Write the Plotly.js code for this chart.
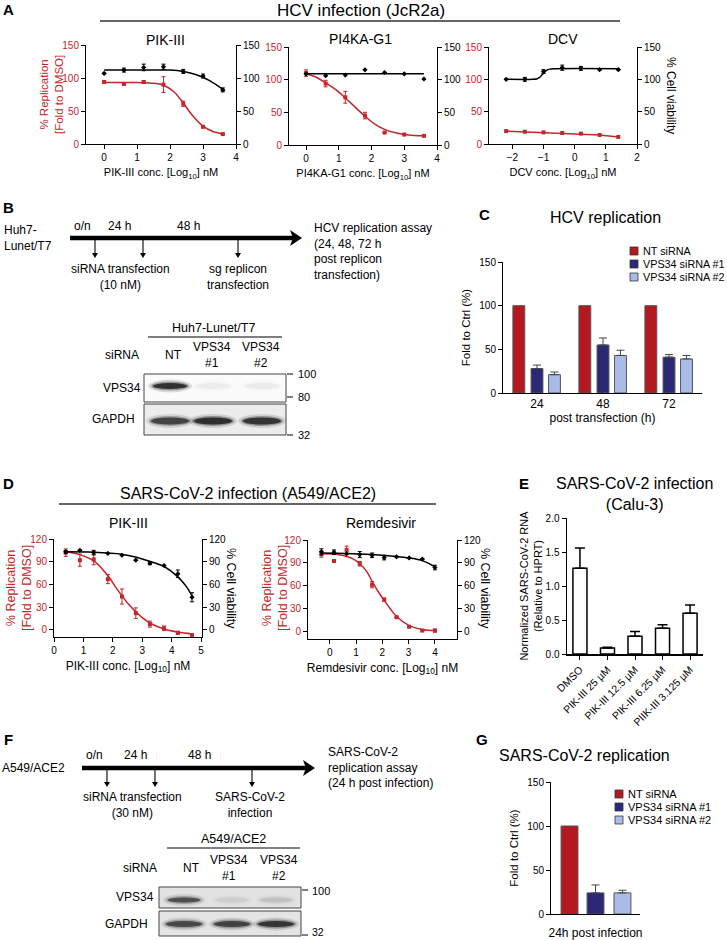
<!DOCTYPE html>
<html><head><meta charset="utf-8">
<script src="https://cdn.plot.ly/plotly-3.0.1.min.js"></script>
<style>html,body{margin:0;padding:0;background:#fff}#chart{width:727px;height:940px}</style>
</head><body><div id="chart"></div>
<script>
// ================= DATA =================
// Panel A - HCV infection (JcR2a)
const pik3HcvDose = [0, 0.6, 1.2, 1.8, 2.4, 3.0, 3.6];
const pik3HcvRep = [94, 91, 94, 90, 61, 26, 15];
const pik3HcvRepErr = [0, 0, 2, 12, 4, 0, 0];
const pik3HcvViab = [107, 112, 116, 117, 110, 103, 82];
const pik3HcvViabErr = [0, 3, 5, 4, 3, 3, 3];
const pik3HcvRepFitX = [0, 1, 1.5, 1.8, 2.1, 2.4, 2.7, 3.0, 3.3, 3.65];
const pik3HcvRepFitY = [93, 93, 92, 89, 80, 62, 42, 27, 19, 15];
const pik3HcvViabFitX = [0, 1, 2, 2.4, 2.8, 3.2, 3.65];
const pik3HcvViabFitY = [112, 112, 112, 110, 105, 96, 81];

const pi4kDose = [0, 0.6, 1.2, 1.8, 2.4, 3.0, 3.6];
const pi4kRep = [110, 94, 73, 45, 19, 16, 14];
const pi4kRepErr = [5, 5, 9, 5, 0, 0, 0];
const pi4kViab = [109, 106, 107, 115, 111, 109, 101];
const pi4kRepFitX = [0, 0.3, 0.6, 0.9, 1.2, 1.5, 1.8, 2.1, 2.4, 2.7, 3.0, 3.3, 3.6];
const pi4kRepFitY = [109, 104, 95, 85, 72, 58, 44, 32, 24, 19, 16, 14.5, 14];
const pi4kViabFitX = [0, 3.6];
const pi4kViabFitY = [109, 109];

const dcvDose = [-2.2, -1.6, -1.0, -0.4, 0.2, 0.8, 1.4];
const dcvRep = [20, 19, 18, 17, 16, 14, 11];
const dcvViab = [100, 100, 112, 118, 117, 115, 115];
const dcvViabErr = [0, 3, 3, 4, 3, 0, 0];
const dcvViabFitX = [-2.2, -1.35, -1.2, -1.1, -1.0, -0.9, -0.8, -0.6, 1.45];
const dcvViabFitY = [100, 100, 101, 104, 110, 114, 115.8, 116.5, 116.5];

// Panel C - HCV replication (siRNA)
const hcvTimes = ['24', '48', '72'];
const hcvNT = [100, 100, 100];
const hcvVps1 = [28, 55, 41];
const hcvVps1Err = [4, 8, 3];
const hcvVps2 = [21, 43, 39];
const hcvVps2Err = [3, 6, 4];
const siNames = ['NT siRNA', 'VPS34 siRNA #1', 'VPS34 siRNA #2'];

// Panel D - SARS-CoV-2 infection (A549/ACE2)
const pik3SarsDose = [0.4, 0.88, 1.35, 1.83, 2.31, 2.78, 3.26, 3.74, 4.21, 4.69];
const pik3SarsRep = [102, 92, 93, 67, 44, 22, 7.5, 2, -4, -7];
const pik3SarsRepErr = [5, 8, 7, 6, 10, 7, 4, 3, 2, 0];
const pik3SarsViab = [103, 105, 102, 101, 98.5, 92, 88, 85, 74, 43];
const pik3SarsViabErr = [2, 0, 3, 0, 0, 0, 2, 0, 5, 6];
const pik3SarsRepFitX = [0.4, 0.9, 1.35, 1.84, 2.1, 2.31, 2.55, 2.78, 3.0, 3.26, 3.74, 4.21, 4.7];
const pik3SarsRepFitY = [103, 99, 91, 71, 56, 45, 33, 24, 16, 9, 1, -3, -5.5];
const pik3SarsViabFitX = [0.4, 1.35, 2.3, 2.8, 3.3, 3.77, 4.21, 4.5, 4.7];
const pik3SarsViabFitY = [103, 102.5, 100, 96, 90, 83, 70, 57, 44];

const remDose = [-0.32, 0.16, 0.64, 1.14, 1.61, 2.07, 2.54, 3.02, 3.52, 4.0];
const remRep = [101.5, 92.5, 107, 89, 61.5, 42, 19, 6.5, 1.5, 1.5];
const remRepErr = [4, 0, 5, 3, 4, 2, 0, 0, 0, 2];
const remViab = [104.5, 104, 102, 101, 100, 97, 98, 96.5, 95, 84];
const remViabErr = [4, 3, 0, 4, 3, 3, 0, 0, 0, 3];
const remRepFitX = [-0.32, 0.3, 0.64, 0.9, 1.14, 1.4, 1.61, 1.85, 2.07, 2.3, 2.54, 3.02, 3.52, 4.0];
const remRepFitY = [102, 101, 98.5, 95, 89, 79, 66, 52, 41, 30, 20, 8, 3, 1.5];
const remViabFitX = [-0.32, 0.64, 1.61, 2.54, 3.02, 3.52, 4.0];
const remViabFitY = [103, 102.5, 101, 98.5, 96.5, 93, 85];

// Panel E - SARS-CoV-2 infection (Calu-3)
const calu3Cond = ['DMSO', 'PIK-III 25 µM', 'PIK-III 12.5 µM', 'PIK-III 6.25 µM', 'PIIK-III 3.125 µM'];
const calu3RNA = [1.26, 0.09, 0.26, 0.38, 0.60];
const calu3Err = [0.30, 0.01, 0.07, 0.05, 0.12];

// Panel G - SARS-CoV-2 replication (siRNA)
const sarsCat = ['24h post infection'];
const sarsNT = [100];
const sarsVps1 = [24];
const sarsVps1Err = [9];
const sarsVps2 = [24];
const sarsVps2Err = [3];

// Western blot relative band intensities (lanes: NT, VPS34 #1, VPS34 #2)
const huhVps34Band = [1.0, 0.05, 0.06];
const huhGapdhBand = [0.85, 1.0, 0.95];
const a549Vps34Band = [0.75, 0.08, 0.12];
const a549GapdhBand = [0.8, 0.85, 0.95];

// ================= HELPERS =================
const W = 727, H = 940;
const X = p => p / W;
const Y = p => 1 - p / H;
const RED = '#c4262c';
const FONT = 'Liberation Sans, Arial, Helvetica, sans-serif';
const SI_COLORS = ['#b3191e', '#2b2875', '#a9bbe6'];

const shapes = [];
const annotations = [];
function T(x, y, text, o = {}) {
  const f = Object.assign({ size: 12, color: '#000' }, o.font || {});
  const a = Object.assign({ xref: 'paper', yref: 'paper', x: X(x), y: Y(y), text, showarrow: false,
    xanchor: 'center', yanchor: 'middle' }, o);
  a.font = f;
  annotations.push(a);
}
function L(x0, y0, x1, y1, w = 1, c = '#000') {
  shapes.push({ type: 'line', xref: 'paper', yref: 'paper', x0: X(x0), y0: Y(y0), x1: X(x1), y1: Y(y1), line: { color: c, width: w } });
}
function R(x0, y0, x1, y1, fill, lc = '#444', lw = 1) {
  shapes.push({ type: 'rect', xref: 'paper', yref: 'paper', x0: X(x0), y0: Y(y1), x1: X(x1), y1: Y(y0), fillcolor: fill, line: { color: lc, width: lw } });
}
function Ell(cx, cy, w, h, fill) {
  shapes.push({ type: 'circle', xref: 'paper', yref: 'paper', x0: X(cx - w / 2), y0: Y(cy + h / 2), x1: X(cx + w / 2), y1: Y(cy - h / 2), fillcolor: fill, line: { width: 0 } });
}
function Path(pts, fill) {
  const d = pts.map((p, i) => (i ? 'L' : 'M') + X(p[0]).toFixed(5) + ',' + Y(p[1]).toFixed(5)).join(' ') + ' Z';
  shapes.push({ type: 'path', xref: 'paper', yref: 'paper', path: d, fillcolor: fill, line: { width: 0 } });
}
function downArrow(x, y0, y1) {
  L(x, y0, x, y1 - 4, 1.1);
  Path([[x - 3, y1 - 5], [x + 3, y1 - 5], [x, y1]], '#000');
}
function bigArrow(x0, x1, y) {
  L(x0, y, x1 - 6, y, 4.5);
  Path([[x1 - 12, y - 8], [x1, y], [x1 - 12, y + 8], [x1 - 9, y]], '#000');
}
function band(cx, cy, w, h, I) {
  if (I <= 0) return;
  Ell(cx, cy, w + 10, h + 7, `rgba(40,40,40,${(0.15 * I).toFixed(3)})`);
  Ell(cx, cy, w + 4, h + 3, `rgba(30,30,30,${(0.35 * I).toFixed(3)})`);
  Ell(cx, cy, w, h, `rgba(15,15,15,${(0.75 * I).toFixed(3)})`);
}
function axisBase(extra) {
  return Object.assign({ showline: true, linecolor: '#000', linewidth: 1, ticks: 'outside', ticklen: 4, tickwidth: 1,
    tickcolor: '#000', showgrid: false, zeroline: false, fixedrange: true, automargin: false,
    tickfont: { size: 10, color: '#000', family: FONT } }, extra);
}
function pts(x, y, err, xa, ya, color, symbol) {
  const t = { x, y, xaxis: xa, yaxis: ya, type: 'scatter', mode: 'markers', cliponaxis: false,
    marker: { size: 4, color, symbol } };
  if (err) t.error_y = { type: 'data', array: err, visible: true, color, thickness: 1, width: 2 };
  return t;
}
function fit(x, y, xa, ya, color, shape = 'spline') {
  return { x, y, xaxis: xa, yaxis: ya, type: 'scatter', mode: 'lines', line: { color, width: 1.5, shape, smoothing: 1 }, hoverinfo: 'skip' };
}
function siBars(cats, vals, errs, idx, xa, ya, width, offs) {
  const t = { type: 'bar', x: cats, y: vals, xaxis: xa, yaxis: ya, name: siNames[idx], width, offset: offs - width / 2,
    marker: { color: SI_COLORS[idx], line: { color: '#555', width: 1 } } };
  if (errs) t.error_y = { type: 'data', array: errs, arrayminus: errs.map(() => 0), symmetric: false, color: '#444', thickness: 1, width: 4 };
  return t;
}

// ================= TRACES =================
const data = [
  // A1 PIK-III
  fit(pik3HcvViabFitX, pik3HcvViabFitY, 'x', 'y2', '#000'),
  pts(pik3HcvDose, pik3HcvViab, pik3HcvViabErr, 'x', 'y2', '#000', 'diamond'),
  fit(pik3HcvRepFitX, pik3HcvRepFitY, 'x', 'y', RED),
  pts(pik3HcvDose, pik3HcvRep, pik3HcvRepErr, 'x', 'y', RED, 'square'),
  // A2 PI4KA-G1
  fit(pi4kViabFitX, pi4kViabFitY, 'x2', 'y4', '#000', 'linear'),
  pts(pi4kDose, pi4kViab, null, 'x2', 'y4', '#000', 'diamond'),
  fit(pi4kRepFitX, pi4kRepFitY, 'x2', 'y3', RED),
  pts(pi4kDose, pi4kRep, pi4kRepErr, 'x2', 'y3', RED, 'square'),
  // A3 DCV
  fit(dcvViabFitX, dcvViabFitY, 'x3', 'y6', '#000'),
  pts(dcvDose, dcvViab, dcvViabErr, 'x3', 'y6', '#000', 'diamond'),
  Object.assign(pts(dcvDose, dcvRep, null, 'x3', 'y5', RED, 'square'), { mode: 'lines+markers', line: { color: RED, width: 1.5 } }),
  // C HCV replication
  siBars(hcvTimes, hcvNT, null, 0, 'x4', 'y7', 0.18, -0.275),
  siBars(hcvTimes, hcvVps1, hcvVps1Err, 1, 'x4', 'y7', 0.18, 0),
  siBars(hcvTimes, hcvVps2, hcvVps2Err, 2, 'x4', 'y7', 0.18, 0.265),
  // D1 PIK-III
  fit(pik3SarsViabFitX, pik3SarsViabFitY, 'x5', 'y9', '#000'),
  pts(pik3SarsDose, pik3SarsViab, pik3SarsViabErr, 'x5', 'y9', '#000', 'diamond'),
  fit(pik3SarsRepFitX, pik3SarsRepFitY, 'x5', 'y8', RED),
  pts(pik3SarsDose, pik3SarsRep, pik3SarsRepErr, 'x5', 'y8', RED, 'square'),
  // D2 Remdesivir
  fit(remViabFitX, remViabFitY, 'x6', 'y11', '#000'),
  pts(remDose, remViab, remViabErr, 'x6', 'y11', '#000', 'diamond'),
  fit(remRepFitX, remRepFitY, 'x6', 'y10', RED),
  pts(remDose, remRep, remRepErr, 'x6', 'y10', RED, 'square'),
  // E Calu-3
  { type: 'bar', x: calu3Cond, y: calu3RNA, xaxis: 'x7', yaxis: 'y12', width: 0.51,
    marker: { color: '#fff', line: { color: '#000', width: 1.5 } },
    error_y: { type: 'data', array: calu3Err, arrayminus: calu3Err.map(() => 0), symmetric: false, color: '#000', thickness: 1.5, width: 5 } },
  // G SARS-CoV-2 replication
  siBars(sarsCat, sarsNT, null, 0, 'x8', 'y13', 0.19, -0.292),
  siBars(sarsCat, sarsVps1, sarsVps1Err, 1, 'x8', 'y13', 0.19, 0),
  siBars(sarsCat, sarsVps2, sarsVps2Err, 2, 'x8', 'y13', 0.19, 0.303),
];

// ================= AXES =================
const redTick = { size: 10, color: RED, family: FONT };
const log10 = name => name + ' conc. [Log<sub>10</sub>] nM';
const layout = {
  width: W, height: H, margin: { l: 0, r: 0, t: 0, b: 0 }, paper_bgcolor: '#fff', plot_bgcolor: 'rgba(0,0,0,0)',
  font: { family: FONT, size: 11, color: '#000' }, showlegend: false, barmode: 'overlay',
  // A1
  xaxis: axisBase({ domain: [X(86), X(236)], range: [-0.55, 4], anchor: 'y', tickvals: [0, 1, 2, 3, 4],
    title: { text: log10('PIK-III'), font: { size: 11 }, standoff: 6 } }),
  yaxis: axisBase({ domain: [Y(144), Y(45)], range: [0, 150], anchor: 'x', tickvals: [0, 50, 100, 150], tickfont: redTick }),
  yaxis2: axisBase({ overlaying: 'y', side: 'right', anchor: 'x', range: [0, 150], tickvals: [0, 50, 100, 150] }),
  // A2
  xaxis2: axisBase({ domain: [X(289), X(437)], range: [-0.52, 4], anchor: 'y3', tickvals: [0, 1, 2, 3, 4],
    title: { text: log10('PI4KA-G1'), font: { size: 11 }, standoff: 6 } }),
  yaxis3: axisBase({ domain: [Y(145), Y(47)], range: [0, 150], anchor: 'x2', tickvals: [0, 50, 100, 150], tickfont: redTick }),
  yaxis4: axisBase({ overlaying: 'y3', side: 'right', anchor: 'x2', range: [0, 150], tickvals: [0, 50, 100, 150] }),
  // A3
  xaxis3: axisBase({ domain: [X(489), X(637)], range: [-2.75, 2], anchor: 'y5', tickvals: [-2, -1, 0, 1, 2],
    title: { text: log10('DCV'), font: { size: 11 }, standoff: 6 } }),
  yaxis5: axisBase({ domain: [Y(144), Y(47)], range: [0, 150], anchor: 'x3', tickvals: [0, 50, 100, 150], tickfont: redTick }),
  yaxis6: axisBase({ overlaying: 'y5', side: 'right', anchor: 'x3', range: [0, 150], tickvals: [0, 50, 100, 150] }),
  // C
  xaxis4: axisBase({ domain: [X(503), X(702)], range: [-0.515, 2.5], anchor: 'y7', type: 'category', ticks: '',
    tickfont: { size: 12, color: '#000', family: FONT }, title: { text: 'post transfection (h)', font: { size: 12 }, standoff: 2 } }),
  yaxis7: axisBase({ domain: [Y(393), Y(262)], range: [0, 150], anchor: 'x4', tickvals: [0, 50, 100, 150],
    title: { text: 'Fold to Ctrl (%)', font: { size: 11.5 }, standoff: 6 } }),
  // D1
  xaxis5: axisBase({ domain: [X(54), X(202)], range: [0, 5.03], anchor: 'y8', tickvals: [0, 1, 2, 3, 4, 5],
    title: { text: log10('PIK-III'), font: { size: 12 }, standoff: 6 } }),
  yaxis8: axisBase({ domain: [Y(637), Y(539)], range: [-9.5, 120], anchor: 'x5', tickvals: [0, 30, 60, 90, 120], tickfont: redTick }),
  yaxis9: axisBase({ overlaying: 'y8', side: 'right', anchor: 'x5', range: [-9.5, 120], tickvals: [0, 30, 60, 90, 120] }),
  // D2
  xaxis6: axisBase({ domain: [X(308), X(457)], range: [-0.83, 4.84], anchor: 'y10', tickvals: [0, 1, 2, 3, 4],
    title: { text: log10('Remdesivir'), font: { size: 12 }, standoff: 6 } }),
  yaxis10: axisBase({ domain: [Y(639), Y(540)], range: [-9.5, 120], anchor: 'x6', tickvals: [0, 30, 60, 90, 120], tickfont: redTick }),
  yaxis11: axisBase({ overlaying: 'y10', side: 'right', anchor: 'x6', range: [-9.5, 120], tickvals: [0, 30, 60, 90, 120] }),
  // E
  xaxis7: axisBase({ domain: [X(567), X(703)], range: [-0.47, 4.47], anchor: 'y12', type: 'category', tickangle: -45, linewidth: 1.5,
    tickfont: { size: 10.5, color: '#000', family: FONT } }),
  yaxis12: axisBase({ domain: [Y(654), Y(518)], range: [0, 2], anchor: 'x7', tickvals: [0, 0.5, 1, 1.5, 2], tickformat: '.1f', linewidth: 1.5,
    title: { text: 'Normalized SARS-CoV-2 RNA<br>(Relative to HPRT)', font: { size: 11 }, standoff: 0 } }),
  // G
  xaxis8: axisBase({ domain: [X(551), X(640)], range: [-0.5, 0.5], anchor: 'y13', type: 'category', ticks: '',
    tickfont: { size: 12, color: '#000', family: FONT }, ticklabelstandoff: 8 }),
  yaxis13: axisBase({ domain: [Y(914), Y(782)], range: [0, 150], anchor: 'x8', tickvals: [0, 50, 100, 150],
    title: { text: 'Fold to Ctrl (%)', font: { size: 11.5 }, standoff: 6 } }),
};

// ================= TEXT & DECORATION =================
const bold = { size: 15, color: '#000' };
T(8, 9, '<b>A</b>', { font: bold });
T(8, 207, '<b>B</b>', { font: bold });
T(484, 215, '<b>C</b>', { font: bold });
T(8, 484, '<b>D</b>', { font: bold });
T(524, 484, '<b>E</b>', { font: bold });
T(8, 739, '<b>F</b>', { font: bold });
T(482, 739, '<b>G</b>', { font: bold });

// Replication (left, red) axis titles
const repText = '% Replication<br>[Fold to DMSO]';
T(51, 95, repText, { textangle: -90, font: { size: 11.5, color: RED } });
T(19, 588, repText, { textangle: -90, font: { size: 12.5, color: RED } });
T(275, 588, repText, { textangle: -90, font: { size: 12.5, color: RED } });

// Panel A headers
T(361, 11, 'HCV infection (JcR2a)', { font: { size: 17 } });
L(100, 21, 620, 21, 1.5, '#333');
T(165, 40, 'PIK-III', { font: { size: 14 } });
T(360, 39, 'PI4KA-G1', { font: { size: 14 } });
T(563, 39, 'DCV', { font: { size: 14 } });
T(671, 95, '% Cell viability', { textangle: 90, font: { size: 12 } });

// Panel B timeline
T(2, 238, 'Huh7-<br>Lunet/T7', { xanchor: 'left', align: 'left', font: { size: 12 } });
T(82, 226, 'o/n'); T(119, 226, '24 h'); T(188, 226, '48 h');
bigArrow(70, 302, 238);
downArrow(95, 240, 258); downArrow(143, 240, 258); downArrow(238, 240, 258);
T(120, 277, 'siRNA transfection<br>(10 nM)');
T(238, 277, 'sg replicon<br>transfection');
T(312, 251, 'HCV replication assay<br>(24, 48, 72 h<br>post replicon<br>transfection)', { xanchor: 'left', align: 'left' });

// Panel B blot
T(214, 328, 'Huh7-Lunet/T7', { font: { size: 12.5 } });
L(148, 337, 282, 337, 1);
T(122, 355, 'siRNA'); T(173, 355, 'NT'); T(212, 355, 'VPS34<br>#1'); T(261, 355, 'VPS34<br>#2');
T(122, 388, 'VPS34'); T(113, 419, 'GAPDH');
R(144, 374, 286, 402, '#fbfbfb');
R(144, 404, 286, 435, '#ececec');
const huhLanes = [170, 213, 262];
huhLanes.forEach((cx, i) => band(cx, 386, 34, 6, huhVps34Band[i]));
huhLanes.forEach((cx, i) => band(cx, 421, 38, 7, huhGapdhBand[i]));
L(287, 374, 293, 374); T(296, 374, '100', { xanchor: 'left', font: { size: 11 } });
L(287, 397, 293, 397); T(296, 397, '80', { xanchor: 'left', font: { size: 11 } });
L(287, 435, 293, 435); T(296, 435, '32', { xanchor: 'left', font: { size: 11 } });

// Panel C
T(605, 217, 'HCV replication', { font: { size: 16 } });
// Panel D headers
T(248, 493, 'SARS-CoV-2 infection (A549/ACE2)', { font: { size: 16 } });
L(59, 504, 436, 504, 1.5, '#333');
T(128, 523, 'PIK-III', { font: { size: 14 } });
T(381, 523, 'Remdesivir', { font: { size: 14 } });
T(231, 588, '% Cell viability', { textangle: 90, font: { size: 12.5 } });
T(485, 588, '% Cell viability', { textangle: 90, font: { size: 12.5 } });
// Panel E
T(634, 494, 'SARS-CoV-2 infection<br>(Calu-3)', { font: { size: 16 } });

// Panel F timeline
T(0, 768, 'A549/ACE2', { xanchor: 'left', font: { size: 12 } });
T(94, 755, 'o/n'); T(135, 755, '24 h'); T(199, 755, '48 h');
bigArrow(82, 315, 768);
downArrow(107, 770, 787); downArrow(155, 770, 787); downArrow(252, 770, 787);
T(132, 805, 'siRNA transfection<br>(30 nM)');
T(250, 805, 'SARS-CoV-2<br>infection');
T(326, 767, 'SARS-CoV-2<br>replication assay<br>(24 h post infection)', { xanchor: 'left', align: 'left' });

// Panel F blot
T(233, 839, 'A549/ACE2', { font: { size: 12.5 } });
L(167, 848, 300, 848, 1);
T(140, 868, 'siRNA'); T(191, 868, 'NT'); T(229, 868, 'VPS34<br>#1'); T(279, 868, 'VPS34<br>#2');
T(135, 897, 'VPS34'); T(127, 924, 'GAPDH');
R(159, 887, 301, 908, '#e2e2e2');
R(159, 911, 301, 936, '#e4e4e4');
const a549Lanes = [184, 232, 276];
a549Lanes.forEach((cx, i) => band(cx, 900, 32, 5, a549Vps34Band[i]));
a549Lanes.forEach((cx, i) => band(cx, 924, 36, 6, a549GapdhBand[i]));
L(302, 890, 308, 890); T(310, 891, '100', { xanchor: 'left', font: { size: 11 } });
L(302, 935, 308, 935); T(310, 932, '32', { xanchor: 'left', font: { size: 10.5 } });

// Panel G
T(584, 755, 'SARS-CoV-2 replication', { font: { size: 16 } });

// Manual legends (panels C and G)
function legend(x, ys, size) {
  siNames.forEach((n, i) => {
    R(x, ys[i] - 4, x + 8, ys[i] + 4, SI_COLORS[i], '#333', 0.8);
    T(x + 11, ys[i], n, { xanchor: 'left', font: { size } });
  });
}
legend(630, [251, 264, 277], 10.8);
legend(615, [794, 807, 820], 11);

layout.shapes = shapes;
layout.annotations = annotations;

Plotly.newPlot('chart', data, layout, { staticPlot: true, displayModeBar: false });
</script>
</body></html>
